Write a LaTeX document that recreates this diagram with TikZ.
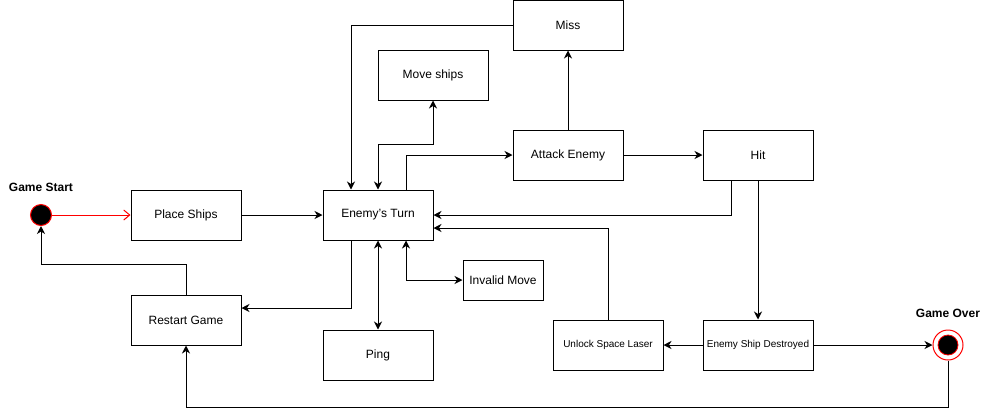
\documentclass[tikz,border=0pt]{standalone}
\usepackage{fontspec}
\setmainfont{Liberation Sans}
\usetikzlibrary{arrows.meta,calc}
\begin{document}
\begin{tikzpicture}[x=1pt,y=-1pt,
  box/.style={draw=black,line width=1pt,fill=white,minimum width=110pt,minimum height=50pt,inner sep=0pt,font=\fontsize{12}{14}\selectfont},
  sbox/.style={box,font=\fontsize{10}{12}\selectfont},
  tip/.tip={Stealth[length=8pt,width=8pt,inset=2.5pt]},
  arr/.style={line width=1pt,-tip},
  barr/.style={line width=1pt,tip-tip},
  ttl/.style={font=\bfseries\fontsize{12}{14}\selectfont}]
\useasboundingbox (0,0) rectangle (989,416);
% nodes
\node[circle,draw=red,fill=black,line width=1pt,minimum size=21pt,inner sep=0pt] (gs) at (41,215) {};
\node[ttl] (gst) at (41,187) {Game Start};
\node[box] (ps) at (186,215) {Place Ships};
\node[box] (et) at (378,215) {Enemy's Turn};
\node[box] (mv) at (433,75) {Move ships};
\node[box] (miss) at (568,25) {Miss};
\node[box] (atk) at (568,155) {Attack Enemy};
\node[box] (hit) at (758,155) {Hit};
\node[box,minimum width=80pt,minimum height=40pt] (inv) at (503,280) {Invalid Move};
\node[box] (ping) at (378,355) {Ping};
\node[box] (rs) at (186,320) {Restart Game};
\node[sbox] (ul) at (608,345) {Unlock Space Laser};
\node[sbox] (esd) at (758,345) {Enemy Ship Destroyed};
\node[circle,draw=red,fill=white,line width=1pt,minimum size=30pt,inner sep=0pt] (go) at (948,345) {};
\node[circle,draw=red,fill=black,line width=0.8pt,minimum size=20pt,inner sep=0pt] (goi) at (948,345) {};
\node[ttl] (got) at (948,313) {Game Over};
% connectors
\draw[red,line width=1pt,-{Straight Barb[length=6pt,width=10pt]}] (gs.east) -- (ps.west);
\draw[arr] (ps.east) -- (et.west);
\draw[arr] (miss.west) -| ([xshift=-27pt]et.north);
\draw[barr] (et.north) -- ([yshift=45pt]et.north) -| (mv.south);
\draw[arr] ([xshift=28pt]et.north) |- (atk.west);
\draw[arr] (atk.north) -- (miss.south);
\draw[arr] (atk.east) -- (hit.west);
\draw[arr] ([xshift=-27pt]hit.south) |- (et.east);
\draw[arr] (hit.south) -- (esd.north);
\draw[arr] (ul.north) |- ([yshift=-13pt]et.east);
\draw[arr] (esd.west) -- (ul.east);
\draw[arr] (esd.east) -- (go.west);
\draw[arr] (go.south) |- ([yshift=-62pt]rs.south) -- (rs.south);
\draw[arr] (rs.north) -- ([yshift=30pt]rs.north) -| (gs.south);
\draw[arr] ([xshift=-27pt]et.south) |- ([yshift=12pt]rs.east);
\draw[barr] (et.south) -- (ping.north);
\draw[barr] ([xshift=28pt]et.south) |- (inv.west);
\end{tikzpicture}
\end{document}
